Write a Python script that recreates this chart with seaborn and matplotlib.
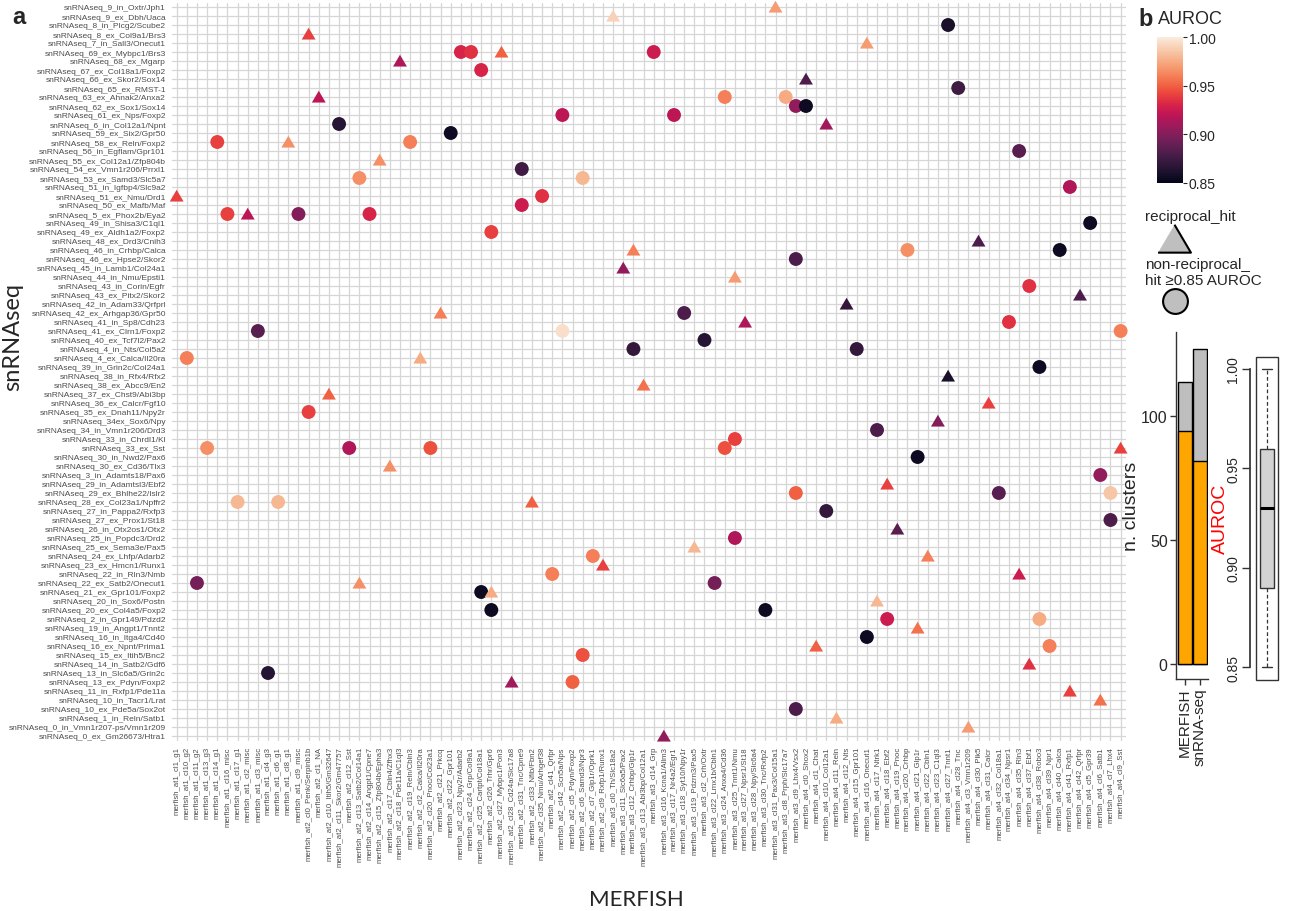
import numpy as np
import pandas as pd
import matplotlib
matplotlib.use("Agg")
import matplotlib.pyplot as plt
import seaborn as sns
from matplotlib.patches import Rectangle
from matplotlib import font_manager

merfish_labels = [
    "merfish_at1_cl1_g1", "merfish_at1_cl10_g2", "merfish_at1_cl11_g2", "merfish_at1_cl13_g3",
    "merfish_at1_cl14_g1", "merfish_at1_cl16_misc", "merfish_at1_cl17_g1", "merfish_at1_cl2_misc",
    "merfish_at1_cl3_misc", "merfish_at1_cl4_g3", "merfish_at1_cl6_g1", "merfish_at1_cl8_g1",
    "merfish_at1_cl9_misc", "merfish_at2_cl0_Penk/Serpinb1b", "merfish_at2_cl1_NA",
    "merfish_at2_cl10_Itih5/Gm32647", "merfish_at2_cl11_Skor2/Gm47757", "merfish_at2_cl12_Sst",
    "merfish_at2_cl13_Satb2/Col14a1", "merfish_at2_cl14_Angpt1/Cpne7", "merfish_at2_cl15_Zfp804b/Epha3",
    "merfish_at2_cl17_Cbln4/Zfhx3", "merfish_at2_cl18_Pde11a/C1ql3", "merfish_at2_cl19_Reln/Cbln3",
    "merfish_at2_cl2_Calca/Il20ra", "merfish_at2_cl20_Pnoc/Col23a1", "merfish_at2_cl21_Prkcq",
    "merfish_at2_cl22_Gpr101", "merfish_at2_cl23_Npy2r/Adarb2", "merfish_at2_cl24_Grp/Col9a1",
    "merfish_at2_cl25_Cartpt/Col18a1", "merfish_at2_cl26_Trhr/Gpr6", "merfish_at2_cl27_Mybpc1/Pon3",
    "merfish_at2_cl28_Cd24a/Slc17a8", "merfish_at2_cl31_Tnc/Cpne9", "merfish_at2_cl33_Nfib/Fbn2",
    "merfish_at2_cl35_Nmu/Arhgef38", "merfish_at2_cl41_Qrfpr", "merfish_at2_cl42_Scn5a/Nps",
    "merfish_at2_cl5_Pdyn/Foxp2", "merfish_at2_cl6_Samd3/Npr3", "merfish_at2_cl7_Glp1r/Oprk1",
    "merfish_at2_cl9_Rxfp1/Runx1", "merfish_at3_cl0_Th/Slc18a2", "merfish_at3_cl11_Slc6a5/Pax2",
    "merfish_at3_cl12_Crhbp/Glp1r", "merfish_at3_cl13_Abi3bp/Col12a1", "merfish_at3_cl14_Grp",
    "merfish_at3_cl16_Kcna1/Allm3", "merfish_at3_cl17_Nr4a2/Egr1", "merfish_at3_cl18_Syt10/Npy1r",
    "merfish_at3_cl19_Pdzrn3/Pax5", "merfish_at3_cl2_Crh/Oxtr", "merfish_at3_cl22_Lmx1b/Cbln1",
    "merfish_at3_cl24_Anxa4/Cd36", "merfish_at3_cl25_Tnnt1/Nmu", "merfish_at3_cl27_Npsr1/St18",
    "merfish_at3_cl28_Npy/Slc6a4", "merfish_at3_cl30_Tnc/Rxfp2", "merfish_at3_cl31_Pax3/Col15a1",
    "merfish_at3_cl8_Prph/Slc17a7", "merfish_at3_cl9_Lhx4/Vsx2", "merfish_at4_cl0_Shox2",
    "merfish_at4_cl1_Chat", "merfish_at4_cl10_Col12a1", "merfish_at4_cl11_Reln", "merfish_at4_cl12_Nts",
    "merfish_at4_cl15_Gpr101", "merfish_at4_cl16_Onecut1", "merfish_at4_cl17_Ntrk1", "merfish_at4_cl18_Ebf2",
    "merfish_at4_cl19_Pnoc", "merfish_at4_cl20_Crhbp", "merfish_at4_cl21_Glp1r", "merfish_at4_cl22_Cbln1",
    "merfish_at4_cl23_C1ql3", "merfish_at4_cl27_Tnnt1", "merfish_at4_cl28_Tnc", "merfish_at4_cl3_Vmn1r209",
    "merfish_at4_cl30_Plk5", "merfish_at4_cl31_Calcr", "merfish_at4_cl32_Col18a1", "merfish_at4_cl34_Npsr1",
    "merfish_at4_cl35_Rln3", "merfish_at4_cl37_Ebf1", "merfish_at4_cl38_Robo3", "merfish_at4_cl39_Npr1",
    "merfish_at4_cl40_Calca", "merfish_at4_cl41_Rxfp1", "merfish_at4_cl42_Qrfpr", "merfish_at4_cl5_Gpr39",
    "merfish_at4_cl6_Satb1", "merfish_at4_cl7_Lhx4", "merfish_at4_cl9_Sst",
]

snrna_labels = [
    "snRNAseq_9_in_Oxtr/Jph1", "snRNAseq_9_ex_Dbh/Uaca", "snRNAseq_8_in_Plcg2/Scube2",
    "snRNAseq_8_ex_Col9a1/Brs3", "snRNAseq_7_in_Sall3/Onecut1", "snRNAseq_69_ex_Mybpc1/Brs3",
    "snRNAseq_68_ex_Mgarp", "snRNAseq_67_ex_Col18a1/Foxp2", "snRNAseq_66_ex_Skor2/Sox14",
    "snRNAseq_65_ex_RMST-1", "snRNAseq_63_ex_Ahnak2/Anxa2", "snRNAseq_62_ex_Sox1/Sox14",
    "snRNAseq_61_ex_Nps/Foxp2", "snRNAseq_6_in_Col12a1/Npnt", "snRNAseq_59_ex_Six2/Gpr50",
    "snRNAseq_58_ex_Reln/Foxp2", "snRNAseq_56_in_Egflam/Gpr101", "snRNAseq_55_ex_Col12a1/Zfp804b",
    "snRNAseq_54_ex_Vmn1r206/Prrxl1", "snRNAseq_53_ex_Samd3/Slc5a7", "snRNAseq_51_in_Igfbp4/Slc9a2",
    "snRNAseq_51_ex_Nmu/Drd1", "snRNAseq_50_ex_Mafb/Maf", "snRNAseq_5_ex_Phox2b/Eya2",
    "snRNAseq_49_in_Shisa3/C1ql1", "snRNAseq_49_ex_Aldh1a2/Foxp2", "snRNAseq_48_ex_Drd3/Cnih3",
    "snRNAseq_46_in_Crhbp/Calca", "snRNAseq_46_ex_Hpse2/Skor2", "snRNAseq_45_in_Lamb1/Col24a1",
    "snRNAseq_44_in_Nmu/Epsti1", "snRNAseq_43_in_Corin/Egfr", "snRNAseq_43_ex_Pitx2/Skor2",
    "snRNAseq_42_in_Adam33/Qrfprl", "snRNAseq_42_ex_Arhgap36/Gpr50", "snRNAseq_41_in_Sp8/Cdh23",
    "snRNAseq_41_ex_Clrn1/Foxp2", "snRNAseq_40_ex_Tcf7l2/Pax2", "snRNAseq_4_in_Nts/Col5a2",
    "snRNAseq_4_ex_Calca/Il20ra", "snRNAseq_39_in_Grin2c/Col24a1", "snRNAseq_38_in_Rfx4/Rfx2",
    "snRNAseq_38_ex_Abcc9/En2", "snRNAseq_37_ex_Chst9/Abi3bp", "snRNAseq_36_ex_Calcr/Fgf10",
    "snRNAseq_35_ex_Dnah11/Npy2r", "snRNAseq_34ex_Sox6/Npy", "snRNAseq_34_in_Vmn1r206/Drd3",
    "snRNAseq_33_in_Chrdl1/Kl", "snRNAseq_33_ex_Sst", "snRNAseq_30_in_Nwd2/Pax6",
    "snRNAseq_30_ex_Cd36/Tlx3", "snRNAseq_3_in_Adamts18/Pax6", "snRNAseq_29_in_Adamtsl3/Ebf2",
    "snRNAseq_29_ex_Bhlhe22/Islr2", "snRNAseq_28_ex_Col23a1/Npffr2", "snRNAseq_27_in_Pappa2/Rxfp3",
    "snRNAseq_27_ex_Prox1/St18", "snRNAseq_26_in_Otx2os1/Otx2", "snRNAseq_25_in_Popdc3/Drd2",
    "snRNAseq_25_ex_Sema3e/Pax5", "snRNAseq_24_ex_Lhfp/Adarb2", "snRNAseq_23_ex_Hmcn1/Runx1",
    "snRNAseq_22_in_Rln3/Nmb", "snRNAseq_22_ex_Satb2/Onecut1", "snRNAseq_21_ex_Gpr101/Foxp2",
    "snRNAseq_20_in_Sox6/Postn", "snRNAseq_20_ex_Col4a5/Foxp2", "snRNAseq_2_in_Gpr149/Pdzd2",
    "snRNAseq_19_in_Angpt1/Tnnt2", "snRNAseq_16_in_Itga4/Cd40", "snRNAseq_16_ex_Npnt/Prima1",
    "snRNAseq_15_ex_Itih5/Bnc2", "snRNAseq_14_in_Satb2/Gdf6", "snRNAseq_13_in_Slc6a5/Grin2c",
    "snRNAseq_13_ex_Pdyn/Foxp2", "snRNAseq_11_in_Rxfp1/Pde11a", "snRNAseq_10_in_Tacr1/Lrat",
    "snRNAseq_10_ex_Pde5a/Sox2ot", "snRNAseq_1_in_Reln/Satb1", "snRNAseq_0_in_Vmn1r207-ps/Vmn1r209",
    "snRNAseq_0_ex_Gm26673/Htra1",
]

# hits: snRNA row number (1-based, top to bottom), MERFISH column number (1-based), AUROC, reciprocal
hit_row = [2, 1, 3, 4, 5, 6, 6, 6, 6, 7, 8, 9, 10, 11, 11, 11, 12, 12, 13, 13,
           14, 14, 15, 16, 16, 16, 17, 18, 19, 20, 20, 21, 22, 22, 23, 24, 24, 24, 24, 25,
           26, 27, 28, 28, 28, 29, 30, 31, 32, 33, 34, 35, 35, 36, 36, 37, 37, 37, 38, 39,
           39, 40, 40, 41, 42, 43, 44, 45, 46, 47, 48, 49, 50, 50, 50, 50, 50, 51, 52, 53,
           54, 55, 55, 55, 56, 56, 56, 57, 58, 59, 60, 61, 62, 62, 63, 64, 64, 65, 65, 65,
           66, 66, 67, 68, 68, 69, 69, 70, 71, 72, 72, 73, 74, 75, 76, 76, 77, 78, 79, 80,
           81, 82]
hit_col = [44, 60, 77, 14, 69, 29, 30, 33, 48, 23, 31, 63, 78, 15, 55, 61, 62, 63, 39, 50,
           17, 65, 28, 5, 12, 24, 84, 21, 35, 19, 41, 89, 1, 37, 35, 6, 8, 13, 20, 91,
           32, 80, 46, 73, 88, 62, 45, 56, 85, 90, 67, 27, 51, 57, 83, 9, 39, 94, 53, 46,
           68, 2, 25, 86, 77, 47, 16, 81, 14, 76, 70, 56, 4, 18, 26, 55, 94, 74, 22, 92,
           71, 62, 82, 93, 7, 11, 36, 65, 93, 72, 56, 52, 42, 75, 43, 38, 84, 3, 19, 54,
           31, 32, 70, 32, 59, 71, 86, 74, 69, 64, 87, 41, 85, 10, 34, 40, 89, 92, 62, 66,
           79, 49]
hit_auroc = [0.99, 0.97, 0.86, 0.94, 0.97, 0.93, 0.935, 0.95, 0.925, 0.915, 0.93, 0.88, 0.875, 0.92, 0.96, 0.975, 0.905, 0.855, 0.92, 0.92,
             0.865, 0.91, 0.855, 0.94, 0.965, 0.96, 0.885, 0.965, 0.875, 0.965, 0.98, 0.915, 0.94, 0.935, 0.925, 0.94, 0.92, 0.90, 0.93, 0.855,
             0.94, 0.88, 0.96, 0.965, 0.855, 0.88, 0.905, 0.97, 0.935, 0.88, 0.87, 0.96, 0.88, 0.915, 0.935, 0.885, 0.995, 0.96, 0.865, 0.87,
             0.87, 0.96, 0.975, 0.855, 0.86, 0.955, 0.95, 0.94, 0.94, 0.90, 0.88, 0.94, 0.965, 0.915, 0.945, 0.945, 0.94, 0.855, 0.965, 0.905,
             0.94, 0.95, 0.885, 0.985, 0.98, 0.98, 0.95, 0.87, 0.88, 0.885, 0.915, 0.98, 0.96, 0.96, 0.94, 0.96, 0.925, 0.895, 0.965, 0.895,
             0.855, 0.975, 0.98, 0.855, 0.855, 0.925, 0.975, 0.955, 0.855, 0.95, 0.96, 0.945, 0.935, 0.865, 0.91, 0.95, 0.94, 0.955, 0.88, 0.975,
             0.97, 0.905]
hit_recip = [1, 1, 0, 1, 1, 0, 0, 1, 0, 1, 0, 1, 0, 1, 0, 0, 0, 0, 0, 0,
             0, 1, 0, 0, 1, 0, 0, 1, 0, 0, 0, 0, 1, 0, 0, 0, 1, 0, 0, 0,
             0, 1, 1, 0, 0, 0, 1, 1, 0, 1, 1, 1, 0, 1, 0, 0, 0, 0, 0, 0,
             0, 0, 1, 0, 1, 1, 1, 1, 0, 1, 0, 0, 0, 0, 0, 0, 1, 0, 1, 0,
             1, 0, 0, 0, 0, 0, 1, 0, 0, 1, 0, 1, 0, 1, 1, 0, 1, 0, 1, 0,
             0, 1, 1, 0, 0, 0, 0, 1, 0, 1, 0, 0, 1, 0, 1, 0, 1, 1, 0, 1,
             1, 1]

bar_groups = ["MERFISH", "snRNA-seq"]
bar_total = [114, 127]
bar_matched = [94, 82]

box_whislo, box_q1, box_med, box_q3, box_whishi = 0.85, 0.89, 0.93, 0.96, 1.00

sns.set_theme(style="white")
names = {f.name for f in font_manager.fontManager.ttflist}
narrow = "Liberation Sans Narrow" in names
tick_family = "Liberation Sans Narrow" if narrow else "Liberation Sans"
xtick_size = 6.5 if narrow else 5.6
ytick_size = 7.0 if narrow else 6.0
plt.rcParams["font.family"] = ["Liberation Sans", "DejaVu Sans"]

W, H = 1289, 912
fig = plt.figure(figsize=(W / 100, H / 100), dpi=100)


def px_axes(x0, y0, x1, y1):
    return fig.add_axes([x0 / W, 1 - y1 / H, (x1 - x0) / W, (y1 - y0) / H])


tri_marker = [(-1.0, -0.8), (1.0, -0.8), (0.0, 0.9)]

# ---------------- main dot plot ----------------
ax = px_axes(171.6, 3.5, 1125.7, 741.5)
df = pd.DataFrame({
    "x": np.array(hit_col) - 1,
    "y": np.array(hit_row) - 1,
    "auroc": hit_auroc,
    "type": ["reciprocal" if r else "non" for r in hit_recip],
})
sns.scatterplot(data=df, x="x", y="y", hue="auroc", palette="rocket", hue_norm=(0.85, 1.0),
                style="type", markers={"reciprocal": tri_marker, "non": "o"}, s=100, linewidth=0,
                legend=False, ax=ax, zorder=3, clip_on=False)
ax.set_xlim(-0.5, len(merfish_labels) - 0.5)
ax.set_ylim(len(snrna_labels) - 0.5, -0.5)
ax.set_xticks(range(len(merfish_labels)))
ax.set_xticklabels(merfish_labels, rotation=90, fontsize=xtick_size, color="#4d4d4d", family=tick_family)
ax.set_yticks(range(len(snrna_labels)))
ax.set_yticklabels(snrna_labels, fontsize=ytick_size, color="#4d4d4d", family=tick_family)
ax.grid(True, color="#d6d6d6", lw=0.9)
ax.set_axisbelow(True)
for s in ax.spines.values():
    s.set_visible(False)
ax.tick_params(axis="both", length=3, color="#c8c8c8", width=0.8, pad=1)
ax.set_xlabel("")
ax.set_ylabel("")

fig.text(13 / W, 1 - 337 / H, "snRNAseq", rotation=90, fontsize=17, family="Lato", ha="center", va="center")
fig.text(636 / W, 1 - 900 / H, "MERFISH", fontsize=16, family="Lato", ha="center", va="center")
fig.text(12 / W, 1 - 17 / H, "a", fontsize=17, fontweight="bold", ha="left", va="center")

# ---------------- colorbar ----------------
cax = px_axes(1157, 38, 1183, 184)
norm = matplotlib.colors.Normalize(0.85, 1.0)
sm = matplotlib.cm.ScalarMappable(norm=norm, cmap=sns.color_palette("rocket", as_cmap=True))
cb = fig.colorbar(sm, cax=cax, ticks=[0.85, 0.90, 0.95, 1.00])
cb.outline.set_visible(False)
cb.ax.set_yticklabels(["0.85", "0.90", "0.95", "1.00"])
cb.ax.tick_params(labelsize=10, length=3, width=0.8, pad=1)
fig.text(1138 / W, 1 - 19 / H, "b", fontsize=17, fontweight="bold", ha="left", va="center")
fig.text(1158 / W, 1 - 20 / H, "AUROC", fontsize=13, ha="left", va="center")

# ---------------- shape legend ----------------
lax = px_axes(1140, 200, 1289, 320)
lax.set_xlim(1140, 1289)
lax.set_ylim(320, 200)
lax.axis("off")
lax.text(1145, 217, "reciprocal_hit", fontsize=11, ha="left", va="center")
lax.scatter([1174], [240], marker=tri_marker, s=560, facecolor="#bfbfbf", edgecolor="black", linewidth=1.5)
lax.text(1145, 265, "non-reciprocal_", fontsize=11, ha="left", va="center")
lax.text(1145, 281, "hit \u22650.85 AUROC", fontsize=11, ha="left", va="center")
lax.scatter([1175], [302], marker="o", s=320, facecolor="#bfbfbf", edgecolor="black", linewidth=1.5, clip_on=False)

# ---------------- bar panel ----------------
bax = px_axes(1176, 333, 1208, 680)
bdf = pd.DataFrame({"group": bar_groups, "total": bar_total, "matched": bar_matched})
sns.barplot(data=bdf, x="group", y="total", color="#bebebe", width=0.93, edgecolor="black",
            linewidth=1, ax=bax, saturation=1)
sns.barplot(data=bdf, x="group", y="matched", color="#ffa500", width=0.93, edgecolor="black",
            linewidth=1, ax=bax, saturation=1)
bax.set_xlim(-0.6, 1.533)
bax.set_ylim(-6, 134)
bax.set_yticks([0, 50, 100])
bax.set_yticklabels(["0", "50", "100"], fontsize=11.5)
bax.set_xticks([0, 1])
bax.set_xticklabels(bar_groups, rotation=90, fontsize=11)
for s in ["top", "right"]:
    bax.spines[s].set_visible(False)
for s in ["left", "bottom"]:
    bax.spines[s].set_color("#333333")
    bax.spines[s].set_linewidth(1)
bax.tick_params(axis="both", length=4, width=1, color="#333333", pad=2, left=True, bottom=True)
bax.set_xlabel("")
bax.set_ylabel("n. clusters", fontsize=14, labelpad=1)
bax.set_facecolor("none")

# ---------------- box panel ----------------
kax = px_axes(1255.7, 357.7, 1278.3, 680.7)
stats = [{"whislo": box_whislo, "q1": box_q1, "med": box_med, "q3": box_q3, "whishi": box_whishi, "fliers": []}]
kax.bxp(stats, positions=[0], widths=0.59, patch_artist=True, capwidths=0.44,
        boxprops=dict(facecolor="#d3d3d3", edgecolor="#333333", linewidth=1),
        medianprops=dict(color="black", linewidth=2.2),
        whiskerprops=dict(color="#333333", linestyle=(0, (3, 2)), linewidth=0.9),
        capprops=dict(color="#333333", linewidth=1))
kax.set_xlim(-0.5, 0.5)
kax.set_ylim(0.8438, 1.0062)
kax.set_xticks([])
for s in ["top", "right", "bottom"]:
    kax.spines[s].set_visible(False)
kax.spines["left"].set_position(("outward", 4))
kax.spines["left"].set_bounds(0.85, 1.0)
kax.spines["left"].set_color("#333333")
kax.set_yticks([0.85, 0.90, 0.95, 1.00])
kax.set_yticklabels(["0.85", "0.90", "0.95", "1.00"], rotation=90, va="center", fontsize=10)
kax.tick_params(axis="y", length=6, width=1, color="#333333", pad=1, left=True)
kax.set_ylabel("AUROC", color="red", fontsize=14, labelpad=-2)
kax.add_patch(Rectangle((0, 0), 1, 1, transform=kax.transAxes, fill=False, lw=1,
                        edgecolor="#333333", clip_on=False))
kax.set_facecolor("none")

fig.savefig("out.png", dpi=100)
